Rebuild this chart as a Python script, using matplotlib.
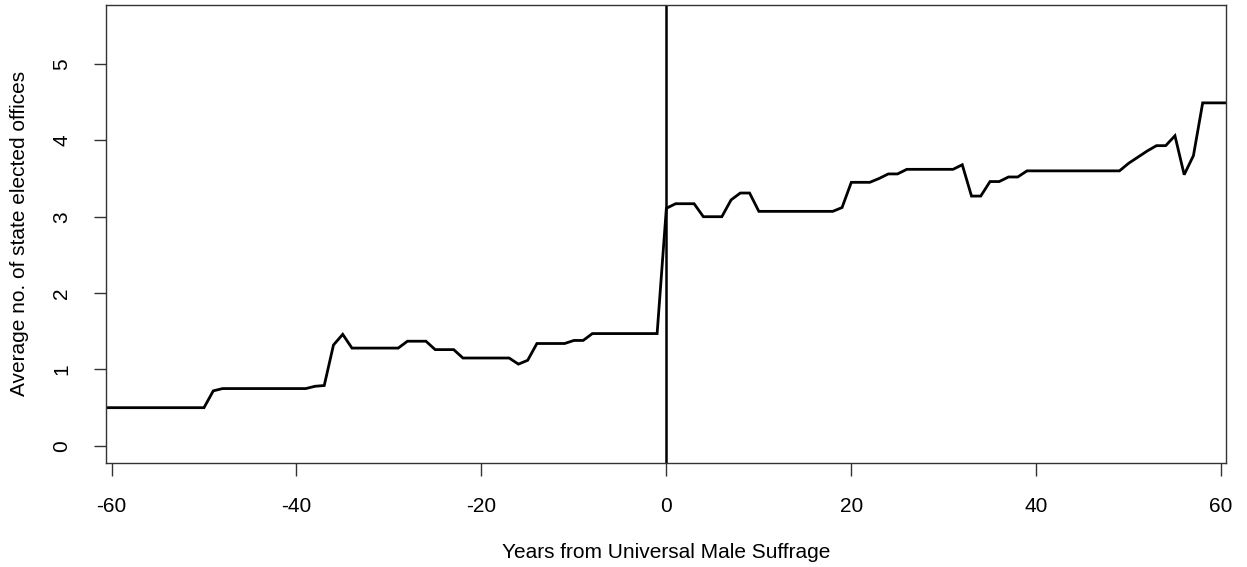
import numpy as np
import matplotlib
matplotlib.use("Agg")
import matplotlib.pyplot as plt

plt.rcParams['font.family'] = ['Liberation Sans', 'DejaVu Sans']
plt.rcParams['axes.unicode_minus'] = False

# years relative to universal male suffrage
years = list(range(-61, 62))

# average no. of state elected offices
pre = [0.50] * 12 + [            # -61 .. -50
    0.72, 0.75, 0.75, 0.75, 0.75, 0.75, 0.75, 0.75, 0.75, 0.75, 0.75,  # -49 .. -39
    0.78, 0.79, 1.32, 1.46,                                           # -38 .. -35
    1.28, 1.28, 1.28, 1.28, 1.28, 1.28,                               # -34 .. -29
    1.37, 1.37, 1.37,                                                 # -28 .. -26
    1.26, 1.26, 1.26,                                                 # -25 .. -23
    1.15, 1.15, 1.15, 1.15, 1.15, 1.15,                               # -22 .. -17
    1.07, 1.12,                                                       # -16 .. -15
    1.34, 1.34, 1.34, 1.34,                                           # -14 .. -11
    1.38, 1.38,                                                       # -10 .. -9
    1.47, 1.47, 1.47, 1.47, 1.47, 1.47, 1.47, 1.47,                   # -8 .. -1
]
post = [
    3.11,                                                             # 0
    3.17, 3.17, 3.17,                                                 # 1 .. 3
    3.00, 3.00, 3.00,                                                 # 4 .. 6
    3.22, 3.31, 3.31,                                                 # 7 .. 9
    3.07, 3.07, 3.07, 3.07, 3.07, 3.07, 3.07, 3.07, 3.07,             # 10 .. 18
    3.12,                                                             # 19
    3.45, 3.45, 3.45, 3.50, 3.56, 3.56,                               # 20 .. 25
    3.62, 3.62, 3.62, 3.62, 3.62, 3.62,                               # 26 .. 31
    3.68, 3.27, 3.27, 3.46, 3.46, 3.52, 3.52,                         # 32 .. 38
    3.60, 3.60, 3.60, 3.60, 3.60, 3.60, 3.60, 3.60, 3.60, 3.60, 3.60, # 39 .. 49
    3.70, 3.78, 3.86, 3.93, 3.93,                                     # 50 .. 54
    4.06, 3.55, 3.80,                                                 # 55 .. 57
    4.49, 4.49, 4.49, 4.49,                                           # 58 .. 61
]
offices = pre + post

xticks = [-60, -40, -20, 0, 20, 40, 60]
yticks = [0, 1, 2, 3, 4, 5]

fig = plt.figure(figsize=(12.47, 5.67), dpi=100)
ax = fig.add_axes([0.085, 0.184, 0.898, 0.807])

ax.plot(years, offices, color='black', lw=2.0, solid_joinstyle='miter')
ax.axvline(0, color='black', lw=1.8)

ax.set_xlim(-60.6, 60.5)
ax.set_ylim(-0.22, 5.77)
ax.set_xticks(xticks)
ax.set_yticks(yticks)
ax.tick_params(direction='out', length=9, width=1, colors='#333333',
               labelcolor='black', labelsize=15, pad=16)
for lab in ax.get_yticklabels():
    lab.set_rotation(90)
    lab.set_va('center')
for sp in ax.spines.values():
    sp.set_color('#333333')
    sp.set_linewidth(1)

ax.set_xlabel('Years from Universal Male Suffrage', fontsize=15, labelpad=19)
ax.set_ylabel('Average no. of state elected offices', fontsize=15, labelpad=16.5)

fig.savefig('out.png', dpi=100)
